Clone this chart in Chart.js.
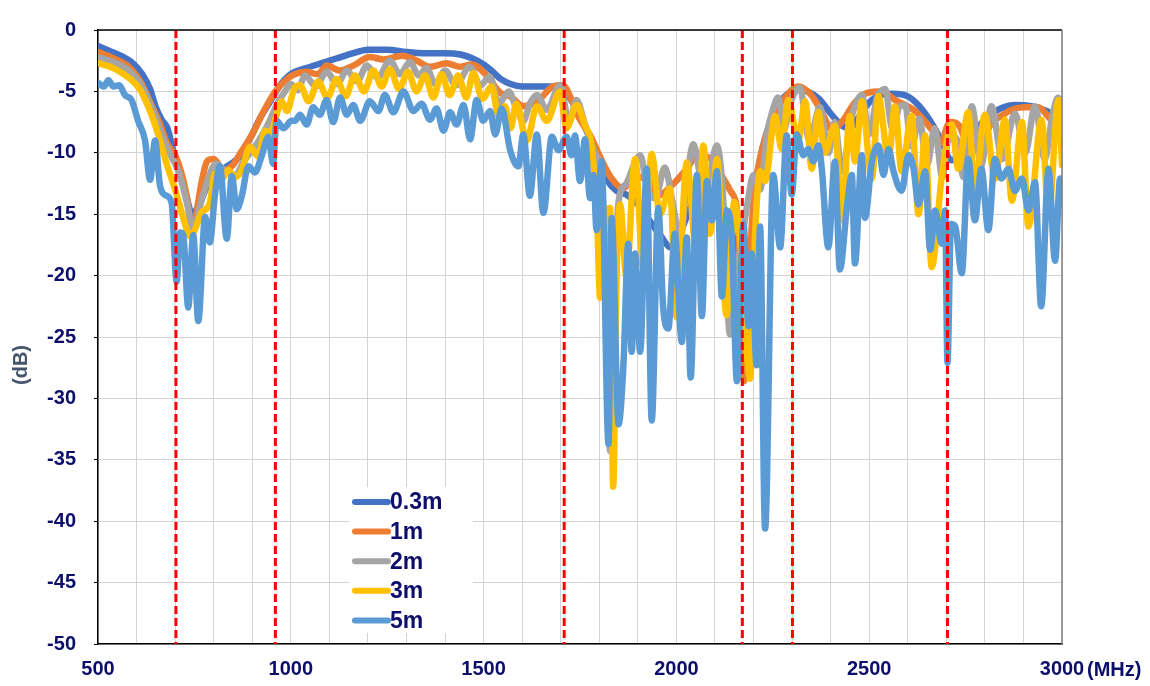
<!DOCTYPE html>
<html>
<head>
<meta charset="utf-8">
<title>Attenuation vs frequency</title>
<script src="https://cdn.jsdelivr.net/npm/chart.js@4.4.1/dist/chart.umd.min.js"></script>
<style>
  body { margin: 0; background: #fff; }
  #wrap { width: 1150px; height: 686px; }
</style>
</head>
<body>
<div id="wrap"><canvas id="myChart" width="1150" height="686"></canvas></div>
<script>
// [MHz, dB], one list per cable length
const s03 = [[500,-1.3],[530,-1.7],[560,-2.1],[590,-2.7],[615,-3.6],[635,-4.8],[650,-6.3],[665,-7.3],[680,-8.0],[695,-9.8],[710,-11.3],[725,-13],[745,-15],[765,-14],[785,-12.6],[805,-11.9],[830,-11.2],[850,-10.8],[870,-10.2],[895,-8.8],[920,-7.2],[945,-5.9],[970,-4.6],[1000,-3.6],[1040,-3.1],[1080,-2.7],[1120,-2.3],[1160,-1.9],[1200,-1.6],[1250,-1.6],[1300,-1.8],[1350,-1.9],[1400,-1.9],[1440,-2.0],[1470,-2.3],[1500,-2.8],[1520,-3.3],[1545,-4.0],[1570,-4.4],[1600,-4.6],[1640,-4.6],[1680,-4.6],[1705,-4.8],[1725,-5.6],[1750,-7.0],[1775,-8.8],[1795,-10.3],[1820,-12.2],[1845,-13.1],[1870,-13.4],[1900,-14.2],[1930,-15.5],[1960,-16.8],[1985,-17.7],[2010,-16.5],[2040,-14.2],[2070,-13.0],[2100,-13.4],[2130,-15.0],[2150,-17.5],[2165,-22],[2178,-27.5],[2190,-20],[2210,-12],[2235,-8.3],[2260,-6.2],[2285,-5.3],[2310,-4.8],[2340,-5.0],[2370,-5.6],[2400,-6.8],[2430,-7.8],[2450,-8.0],[2475,-7.0],[2500,-5.9],[2530,-5.3],[2560,-5.2],[2600,-5.4],[2630,-6.2],[2660,-7.5],[2690,-9.2],[2712,-10.6],[2735,-10.2],[2765,-8.6],[2800,-7.3],[2840,-6.4],[2880,-6.1],[2920,-6.2],[2960,-6.6],[3000,-7.4]];

const s1m = [[500,-1.8],[540,-2.3],[580,-3.0],[610,-4.2],[640,-6.2],[660,-7.6],[680,-9.3],[700,-10.2],[715,-11.5],[730,-13.5],[745,-16.5],[755,-15],[768,-12.5],[785,-10.6],[800,-10.5],[825,-11.4],[850,-11],[870,-10],[900,-8.5],[930,-6.6],[960,-5.0],[990,-4.0],[1010,-3.6],[1040,-3.4],[1070,-3.6],[1093,-2.9],[1128,-3.3],[1162,-2.9],[1205,-2.2],[1240,-2.4],[1290,-2.1],[1327,-2.5],[1361,-3.0],[1404,-2.7],[1439,-3.0],[1469,-2.8],[1508,-3.7],[1543,-5.1],[1569,-5.4],[1603,-6.2],[1640,-5.8],[1680,-4.6],[1705,-4.5],[1730,-5.8],[1750,-7.3],[1775,-8.5],[1800,-10.2],[1830,-12],[1862,-12.9],[1888,-12.1],[1920,-12],[1950,-13.5],[1990,-12.6],[2027,-11.3],[2055,-10.2],[2090,-10.5],[2120,-12],[2140,-13.1],[2160,-15.5],[2170,-24],[2175,-28.6],[2185,-22],[2200,-14],[2221,-9.9],[2247,-7.3],[2282,-5.5],[2316,-4.6],[2350,-5.3],[2377,-6.7],[2403,-8.1],[2429,-7.5],[2463,-5.9],[2497,-5.1],[2532,-5.0],[2567,-5.7],[2619,-6.6],[2662,-8.1],[2688,-9.2],[2700,-8.0],[2710,-7.5],[2731,-7.7],[2760,-9.5],[2790,-9],[2820,-7.5],[2843,-7.0],[2870,-6.5],[2900,-6.3],[2938,-6.3],[2963,-7],[2990,-8.1],[3000,-8.5]];

const s2m = [[500,-2.2],[540,-2.6],[580,-3.3],[610,-4.4],[640,-6.4],[665,-8.5],[690,-10.3],[710,-11.6],[730,-14],[748,-16.3],[765,-14.3],[785,-12.2],[806,-10.9],[830,-11.5],[855,-11.8],[880,-10.6],[905,-9.6],[925,-8.6],[945,-7.4],[965,-6.0],[985,-5.0],[1000,-4.4],[1018,-4.9],[1037,-3.7],[1065,-4.6],[1093,-3.4],[1120,-4.4],[1145,-3.3],[1172,-4.2],[1197,-2.9],[1225,-3.9],[1257,-2.5],[1283,-3.6],[1309,-2.6],[1332,-3.7],[1352,-3.1],[1375,-4.4],[1400,-3.3],[1428,-4.5],[1464,-3.0],[1492,-4.5],[1516,-3.8],[1540,-6.0],[1565,-5.0],[1585,-6.4],[1603,-7.4],[1620,-6.0],[1638,-5.3],[1664,-6.5],[1698,-4.5],[1722,-7.5],[1741,-5.7],[1762,-7.6],[1787,-9.9],[1805,-12],[1818,-20],[1828,-34.3],[1838,-22],[1850,-14],[1870,-12.5],[1890,-11],[1906,-10.2],[1925,-13],[1945,-13.7],[1970,-11.2],[1990,-14],[2010,-17],[2028,-12],[2044,-9.3],[2062,-12],[2079,-14.5],[2092,-11],[2105,-9.4],[2120,-13],[2139,-24.8],[2155,-20],[2170,-17],[2185,-14],[2200,-11.8],[2217,-13],[2235,-8.5],[2250,-6.5],[2264,-5.5],[2280,-8],[2295,-6],[2320,-4.7],[2345,-9],[2372,-6.3],[2395,-10],[2410,-7.5],[2430,-11.5],[2455,-7],[2481,-5.3],[2500,-8.5],[2520,-5.5],[2541,-4.8],[2560,-8],[2580,-6.2],[2593,-6.1],[2610,-9.5],[2630,-7.2],[2650,-11],[2670,-8],[2690,-12],[2705,-9],[2725,-8.8],[2745,-12],[2766,-6.2],[2790,-11],[2817,-6.2],[2845,-10.5],[2878,-6.8],[2905,-10],[2930,-6.2],[2955,-10.5],[2975,-7],[2990,-5.5],[3000,-6]];

const s3m = [[500,-2.7],[540,-3.1],[580,-3.9],[610,-4.9],[635,-6.6],[656,-8.5],[678,-10.9],[700,-13],[722,-15.4],[739,-16.8],[752,-16.2],[768,-14.9],[790,-14.1],[803,-11.7],[820,-12.2],[838,-11.4],[855,-12],[873,-11.4],[894,-9.5],[916,-10.3],[933,-8.2],[948,-8.4],[962,-7.0],[976,-5.8],[990,-6.6],[1010,-4.7],[1024,-4.5],[1046,-5.8],[1071,-4.2],[1095,-5.5],[1119,-4.0],[1142,-5.4],[1166,-3.7],[1190,-5.0],[1214,-3.3],[1236,-4.6],[1257,-3.2],[1281,-4.8],[1304,-3.4],[1326,-5.0],[1348,-3.7],[1370,-5.5],[1391,-3.6],[1412,-5.3],[1434,-3.7],[1455,-5.5],[1473,-3.5],[1497,-5.6],[1521,-4.6],[1540,-7.2],[1555,-6.2],[1570,-8.0],[1585,-6.0],[1612,-9.0],[1638,-6.2],[1664,-7.4],[1698,-5.0],[1715,-8.0],[1741,-6.1],[1763,-7.8],[1780,-9.5],[1795,-16],[1802,-21.8],[1815,-15],[1828,-14.5],[1836,-37.2],[1845,-20],[1854,-14.2],[1870,-20],[1893,-10.5],[1914,-19.3],[1936,-10.1],[1957,-15],[1983,-12.9],[2001,-23.4],[2027,-10.8],[2053,-18.5],[2070,-9.4],[2087,-16.6],[2105,-10.5],[2130,-23.2],[2150,-14],[2165,-17],[2191,-28.4],[2205,-16],[2217,-11.5],[2230,-12.3],[2256,-7.0],[2273,-9.7],[2290,-5.7],[2316,-9],[2334,-5.8],[2351,-11.3],[2368,-6.7],[2385,-10],[2411,-7.8],[2429,-15.5],[2450,-7],[2463,-10.7],[2481,-5.8],[2507,-12.1],[2524,-5.4],[2550,-10.5],[2567,-6.2],[2584,-11.5],[2610,-7.0],[2628,-15],[2645,-8.6],[2662,-19.3],[2688,-12],[2714,-7.7],[2731,-11.3],[2757,-6.7],[2774,-13.1],[2800,-6.9],[2826,-12.1],[2852,-7.3],[2870,-13.9],[2896,-7.5],[2913,-16],[2947,-7.3],[2965,-15],[2991,-5.7],[3000,-11]];

const s5m = [[500,-4.3],[515,-4.6],[527,-4.1],[540,-4.6],[555,-4.5],[570,-5.3],[587,-5.7],[604,-7.4],[622,-9.0],[635,-12.2],[648,-9.0],[661,-12.7],[678,-13.5],[691,-14.1],[704,-20.5],[713,-16.5],[721,-16.7],[734,-22.6],[747,-16.7],[760,-23.7],[778,-15.2],[790,-17.3],[803,-13.5],[816,-11.1],[834,-17],[847,-11.9],[860,-14.6],[873,-13.5],[890,-11.1],[907,-11.6],[924,-10.3],[942,-8.7],[954,-10.9],[963,-7.4],[981,-8.0],[1002,-7.4],[1011,-7.4],[1024,-6.9],[1041,-7.7],[1058,-6.3],[1075,-6.9],[1093,-5.7],[1110,-7.5],[1128,-5.5],[1145,-6.9],[1162,-6.1],[1180,-7.4],[1205,-5.8],[1227,-6.6],[1244,-5.3],[1266,-6.7],[1292,-5.0],[1318,-6.6],[1339,-6.0],[1361,-7.3],[1378,-6.4],[1396,-8.2],[1413,-6.7],[1430,-7.7],[1448,-6.1],[1465,-8.9],[1482,-5.7],[1499,-7.4],[1517,-6.6],[1530,-8.5],[1547,-6.4],[1569,-9.8],[1590,-11.1],[1603,-8.5],[1620,-13.5],[1638,-8.5],[1655,-14.9],[1677,-8.7],[1694,-9.8],[1715,-8.7],[1728,-10.2],[1737,-8.6],[1750,-12.3],[1763,-8.9],[1776,-13.7],[1785,-11.8],[1793,-16.3],[1806,-10.7],[1824,-33.7],[1832,-15.3],[1850,-32.1],[1863,-27],[1875,-17.4],[1884,-26.2],[1893,-18.2],[1906,-26.2],[1923,-11.3],[1936,-31.8],[1953,-14.5],[1966,-22.7],[1979,-24.3],[1996,-16.6],[2014,-25.4],[2027,-16.9],[2037,-28.3],[2053,-11.8],[2066,-23.3],[2079,-12.3],[2092,-15.5],[2105,-11.5],[2118,-21.7],[2131,-14.7],[2144,-17.1],[2157,-28.6],[2174,-15.8],[2187,-24.1],[2195,-18.2],[2208,-27.3],[2217,-16],[2230,-40.6],[2251,-11.8],[2269,-17.7],[2286,-8.6],[2299,-13.4],[2312,-8.5],[2329,-10.2],[2342,-9.7],[2355,-10.7],[2368,-9.4],[2377,-11.3],[2394,-17.7],[2411,-10.7],[2424,-19.5],[2442,-14.5],[2455,-11.8],[2463,-19],[2481,-10.2],[2489,-15.3],[2507,-10.7],[2524,-9.4],[2537,-11.8],[2550,-9.7],[2563,-11.5],[2584,-13.1],[2602,-10.2],[2615,-11.3],[2628,-14.2],[2645,-11.5],[2658,-17.9],[2671,-14.7],[2688,-17.4],[2697,-14.7],[2703,-27.1],[2712,-15.8],[2723,-16],[2740,-19.8],[2757,-10.5],[2774,-15.5],[2791,-11.3],[2809,-16.3],[2826,-10.5],[2843,-12.1],[2861,-11.3],[2878,-13.1],[2896,-12.1],[2913,-14.7],[2930,-12.4],[2946,-22.5],[2965,-11.3],[2982,-18.8],[2995,-12.1],[3000,-14.3]];

const seriesNames = ["0.3m", "1m", "2m", "3m", "5m"];
const seriesColors = ["#4472C4", "#ED7D31", "#A5A5A5", "#FFC000", "#5B9BD5"];
const seriesData = [s03, s1m, s2m, s3m, s5m];

// band edges (red dashed lines), MHz
const markerFreqs = [702, 960, 1709, 2171, 2301, 2703];

const xMin = 500, xMax = 3000, xLabelStep = 500;
const yMin = -50, yMax = 0, yStep = 5;

const navy = "#0d0d6b";
const fontFam = "'Liberation Sans', Arial, sans-serif";

const ctx = document.getElementById("myChart");

const datasets = [];
markerFreqs.forEach(function (f) {
  datasets.push({
    data: [{ x: f, y: yMax }, { x: f, y: yMin }],
    borderColor: "#FF0000",
    borderWidth: 3,
    borderDash: [8, 4],
    borderCapStyle: "butt",
    pointRadius: 0,
    tension: 0,
    order: 0,
  });
});
seriesData.forEach(function (pts, i) {
  datasets.push({
    label: seriesNames[i],
    data: pts.map(function (p) {
      return { x: p[0], y: p[1] };
    }),
    borderColor: seriesColors[i],
    borderWidth: 6.5,
    borderJoinStyle: "round",
    borderCapStyle: "round",
    pointRadius: 0,
    cubicInterpolationMode: "monotone",
    order: seriesData.length - i,
  });
});

// frame, legend box and the two unit labels
const extras = {
  id: "extras",
  afterDraw(chart) {
    const c = chart.ctx;
    const a = chart.chartArea;
    c.save();
    c.lineWidth = 1.5;
    c.strokeStyle = "#000";
    c.beginPath();
    c.moveTo(a.left, a.top);
    c.lineTo(a.right, a.top);
    c.stroke();
    c.strokeStyle = "#7f7f7f";
    c.beginPath();
    c.moveTo(a.right, a.top);
    c.lineTo(a.right, a.bottom);
    c.stroke();

    // legend
    const lx = 349, ly = 487, lw = 124, lh = 146, rowH = 29.6;
    c.fillStyle = "#fff";
    c.fillRect(lx, ly, lw, lh);
    c.font = "bold 23px " + fontFam;
    c.textBaseline = "middle";
    c.textAlign = "left";
    seriesNames.forEach(function (name, i) {
      const yy = ly + 15 + i * rowH;
      c.strokeStyle = seriesColors[i];
      c.lineWidth = 6;
      c.lineCap = "round";
      c.beginPath();
      c.moveTo(lx + 6, yy);
      c.lineTo(lx + 39, yy);
      c.stroke();
      c.fillStyle = navy;
      c.fillText(name, lx + 41, yy + 1);
    });

    c.font = "bold 20px " + fontFam;
    c.fillStyle = navy;
    c.textAlign = "left";
    c.fillText("(MHz)", a.right + 25, a.bottom + 26);

    c.translate(21, (a.top + a.bottom) / 2 + 28);
    c.rotate(-Math.PI / 2);
    c.textAlign = "center";
    c.fillStyle = "#44546A";
    c.fillText("(dB)", 0, 0);
    c.restore();
  },
};

new Chart(ctx, {
  type: "line",
  data: { datasets: datasets },
  options: {
    responsive: false,
    animation: false,
    devicePixelRatio: 1,
    layout: { padding: { top: 19, right: 88, bottom: 0, left: 0 } },
    plugins: { legend: { display: false }, tooltip: { enabled: false } },
    scales: {
      x: {
        type: "linear",
        min: xMin,
        max: xMax,
        afterFit: function (s) {
          s.height = 42;
        },
        ticks: {
          stepSize: 100,
          autoSkip: false,
          maxRotation: 0,
          padding: 13,
          color: navy,
          font: { family: fontFam, size: 20, weight: "bold" },
          callback: function (v) {
            return v % xLabelStep === 0 ? v : "";
          },
        },
        grid: { color: "#d4d4d4", lineWidth: 1, drawTicks: false },
        border: { color: "#000", width: 1.5 },
      },
      y: {
        min: yMin,
        max: yMax,
        afterFit: function (s) {
          s.width = 98;
        },
        ticks: {
          stepSize: yStep,
          padding: 18,
          color: navy,
          font: { family: fontFam, size: 20, weight: "bold" },
        },
        grid: { color: "#d4d4d4", lineWidth: 1, tickLength: 4, tickColor: "#000" },
        border: { color: "#000", width: 1.5 },
      },
    },
  },
  plugins: [extras],
});
</script>
</body>
</html>
